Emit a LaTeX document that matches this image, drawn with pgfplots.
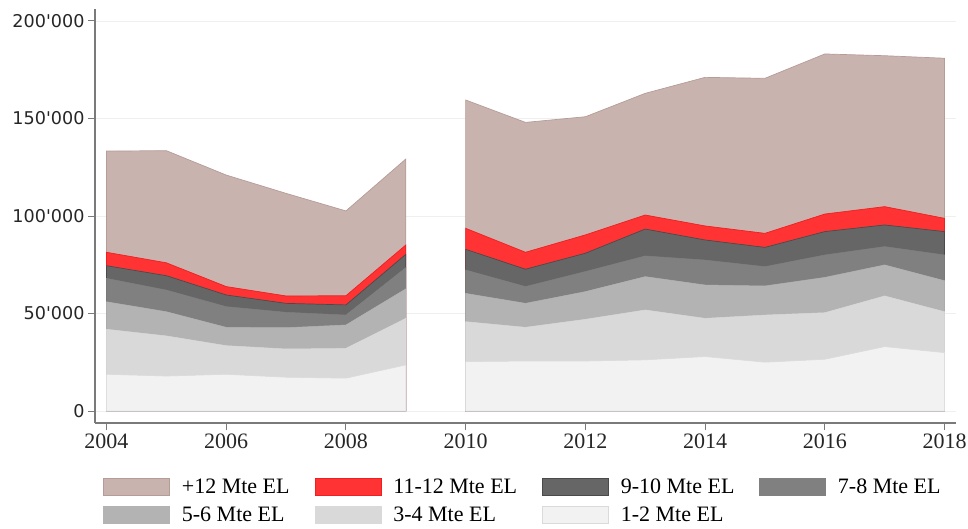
\documentclass[border=0pt]{standalone}
\usepackage{pgfplots}
\pgfplotsset{compat=1.18}
\usepackage{pgfplotstable}
\usepackage{fontspec}
\setmainfont{Liberation Serif}
\newfontfamily\yfont{DejaVu Sans}

\definecolor{cA}{HTML}{C9B3AF}
\definecolor{cAe}{HTML}{B59C97}
\definecolor{cB}{HTML}{FF3333}
\definecolor{cBe}{HTML}{EE2020}
\definecolor{cC}{HTML}{666666}
\definecolor{cCe}{HTML}{4A4A4A}
\definecolor{cD}{HTML}{808080}
\definecolor{cE}{HTML}{B3B3B3}
\definecolor{cF}{HTML}{D9D9D9}
\definecolor{cG}{HTML}{F2F2F2}
\definecolor{axisgray}{HTML}{7A7A7A}
\definecolor{gridgray}{HTML}{EFEFEF}

% cumulative tops of each layer
\pgfplotstableread{
year g f e d c b a
2004 18800 41900 56000 68000 74500 81400 133300
2005 17900 38500 50900 62000 69400 76000 133500
2006 18800 33500 42900 53500 59500 63800 121000
2007 17300 31800 42700 50600 55200 59000 111600
2008 16800 32100 44100 49200 54400 59100 102600
2009 23600 47500 62600 73500 80300 85100 129200
}\segA
\pgfplotstableread{
year g f e d c b a
2010 25300 45800 60300 72300 82900 93700 159500
2011 25600 42900 55200 63800 72700 81400 148000
2012 25600 47000 61200 71500 80900 90300 150900
2013 26200 51800 68900 79500 93300 100500 162900
2014 27900 47500 64600 77400 87700 94900 171100
2015 25000 49200 64100 74000 83900 91100 170600
2016 26500 50400 68500 80000 92000 101000 183100
2017 33000 59000 74900 84300 95400 104800 182200
2018 29900 50900 66800 80000 92000 98800 180900
}\segB

\begin{document}
\begin{tikzpicture}
\useasboundingbox (-95pt,-105pt) rectangle (873pt,423pt);
\begin{axis}[
  at={(0pt,0pt)}, anchor=south west,
  scale only axis, width=861pt, height=414pt,
  xmin=2003.808, xmax=2018.192, ymin=-6154, ymax=206154,
  axis x line*=bottom, axis y line*=left,
  axis line style={color=axisgray, line width=1.3pt, -},
  xtick={2004,2006,2008,2010,2012,2014,2016,2018},
  xticklabels={2004,2006,2008,2010,2012,2014,2016,2018},
  ytick={0,50000,100000,150000,200000},
  yticklabels={0,50'000,100'000,150'000,200'000},
  tick align=outside, major tick length=7pt,
  tick style={color=axisgray, line width=1pt},
  ymajorgrids, grid style={color=gridgray, line width=0.8pt},
  yticklabel style={font=\yfont\fontsize{17.6}{20}\selectfont, color=black!85},
  xticklabel style={font=\fontsize{22}{26}\selectfont, color=black!85},
  scaled y ticks=false,
  legend image code/.code={\fill[#1] (0pt,-8.5pt) rectangle (66pt,8.5pt);},
  legend columns=4,
  legend cell align=left,
  legend style={at={(0,0)}, anchor=north west, xshift=8pt, yshift=-55pt,
    draw=none, fill=none, inner sep=0pt,
    font=\fontsize{22}{26}\selectfont,
    row sep=10pt,
    nodes={inner sep=0pt},
    /tikz/every odd column/.append style={column sep=12pt},
    /tikz/every even column/.append style={column sep=25pt}},
]
\addplot[fill=cA, draw=cAe, line width=0.7pt] table[x=year,y=a]{\segA} \closedcycle;
\addlegendentry{+12 Mte EL}
\addplot[forget plot, fill=cA, draw=cAe, line width=0.7pt] table[x=year,y=a]{\segB} \closedcycle;
\addplot[fill=cB, draw=cBe, line width=0.7pt] table[x=year,y=b]{\segA} \closedcycle;
\addlegendentry{11-12 Mte EL}
\addplot[forget plot, fill=cB, draw=cBe, line width=0.7pt] table[x=year,y=b]{\segB} \closedcycle;
\addplot[fill=cC, draw=cCe, line width=0.7pt] table[x=year,y=c]{\segA} \closedcycle;
\addlegendentry{9-10 Mte EL}
\addplot[forget plot, fill=cC, draw=cCe, line width=0.7pt] table[x=year,y=c]{\segB} \closedcycle;
\addplot[fill=cD, draw=cD, line width=0.5pt] table[x=year,y=d]{\segA} \closedcycle;
\addlegendentry{7-8 Mte EL}
\addplot[forget plot, fill=cD, draw=cD, line width=0.5pt] table[x=year,y=d]{\segB} \closedcycle;
\addplot[fill=cE, draw=cE, line width=0.5pt] table[x=year,y=e]{\segA} \closedcycle;
\addlegendentry{5-6 Mte EL}
\addplot[forget plot, fill=cE, draw=cE, line width=0.5pt] table[x=year,y=e]{\segB} \closedcycle;
\addplot[fill=cF, draw=cF, line width=0.5pt] table[x=year,y=f]{\segA} \closedcycle;
\addlegendentry{3-4 Mte EL}
\addplot[forget plot, fill=cF, draw=cF, line width=0.5pt] table[x=year,y=f]{\segB} \closedcycle;
\addplot[fill=cG, draw=cG!90!black, line width=0.5pt] table[x=year,y=g]{\segA} \closedcycle;
\addlegendentry{1-2 Mte EL}
\addplot[forget plot, fill=cG, draw=cG!90!black, line width=0.5pt] table[x=year,y=g]{\segB} \closedcycle;
\end{axis}
\end{tikzpicture}
\end{document}
